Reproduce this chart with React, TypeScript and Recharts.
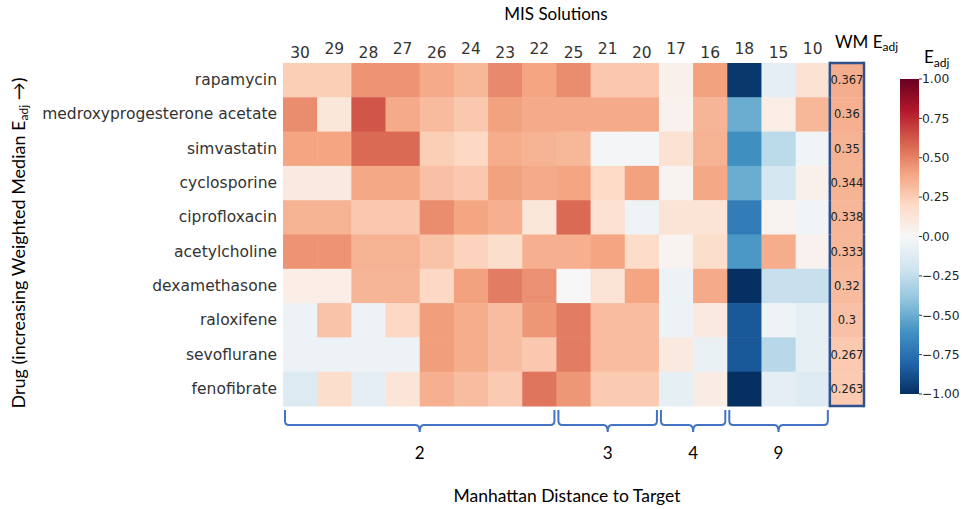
import { ScatterChart, Scatter, XAxis, YAxis, ReferenceArea, BarChart, Bar } from 'recharts';

const DRUGS = [
  'rapamycin',
  'medroxyprogesterone acetate',
  'simvastatin',
  'cyclosporine',
  'ciprofloxacin',
  'acetylcholine',
  'dexamethasone',
  'raloxifene',
  'sevoflurane',
  'fenofibrate',
];

const SOLUTIONS = ['30', '29', '28', '27', '26', '24', '23', '22', '25', '21', '20', '17', '16', '18', '15', '10'];

// E_adj per drug (rows) and MIS solution (columns, same order as SOLUTIONS)
const EADJ = [
  [0.25, 0.25, 0.45, 0.45, 0.38, 0.33, 0.48, 0.4, 0.47, 0.27, 0.27, 0.05, 0.41, -0.97, -0.1, 0.15],
  [0.47, 0.12, 0.63, 0.38, 0.32, 0.27, 0.41, 0.38, 0.38, 0.38, 0.38, 0.04, 0.34, -0.5, 0.07, 0.33],
  [0.4, 0.4, 0.57, 0.57, 0.25, 0.21, 0.37, 0.35, 0.33, -0.02, -0.02, 0.15, 0.35, -0.62, -0.27, -0.03],
  [0.1, 0.1, 0.39, 0.39, 0.3, 0.27, 0.41, 0.38, 0.4, 0.2, 0.41, 0.03, 0.39, -0.5, -0.18, 0.05],
  [0.35, 0.35, 0.27, 0.27, 0.47, 0.4, 0.36, 0.12, 0.57, 0.16, -0.05, 0.14, 0.14, -0.7, 0.03, -0.03],
  [0.45, 0.45, 0.35, 0.35, 0.29, 0.23, 0.18, 0.36, 0.36, 0.4, 0.19, 0.03, 0.18, -0.58, 0.37, 0.04],
  [0.07, 0.07, 0.34, 0.34, 0.21, 0.41, 0.52, 0.46, 0.0, 0.14, 0.4, -0.06, 0.38, -1.0, -0.23, -0.23],
  [-0.06, 0.29, -0.06, 0.21, 0.42, 0.37, 0.31, 0.44, 0.52, 0.31, 0.31, -0.06, 0.1, -0.85, -0.05, -0.09],
  [-0.06, -0.06, -0.06, -0.06, 0.42, 0.37, 0.31, 0.27, 0.52, 0.31, 0.31, 0.1, -0.07, -0.85, -0.28, -0.09],
  [-0.14, 0.18, -0.1, 0.13, 0.36, 0.31, 0.26, 0.54, 0.44, 0.26, 0.26, -0.09, 0.08, -1.0, -0.1, -0.13],
];

const WM_EADJ = [0.367, 0.36, 0.35, 0.344, 0.338, 0.333, 0.32, 0.3, 0.267, 0.263];

// Manhattan distance groups, as column index ranges
const GROUPS = [
  { label: '2', from: 0, to: 8 },
  { label: '3', from: 8, to: 11 },
  { label: '4', from: 11, to: 13 },
  { label: '9', from: 13, to: 16 },
];

const CB_TICKS = [-1, -0.75, -0.5, -0.25, 0, 0.25, 0.5, 0.75, 1];

// matplotlib RdBu_r anchors, from -1 to 1
const RDBU_R = ['#053061', '#2166ac', '#4393c3', '#92c5de', '#d1e5f0', '#f7f7f7', '#fddbc7', '#f4a582', '#d6604d', '#b2182b', '#67001f'];

const W = 962;
const H = 509;
const PLOT_L = 283;
const PLOT_T = 63;
const PLOT_R = 864;
const PLOT_B = 406;
const NCOL = SOLUTIONS.length + 1;
const CELL_W = (PLOT_R - PLOT_L) / NCOL;
const CELL_H = (PLOT_B - PLOT_T) / DRUGS.length;
const XAXIS_H = 30;
const YAXIS_W = 250;

const MPL = '"DejaVu Sans", sans-serif';
const PPT = 'Lato, "Open Sans", sans-serif';
const BOX_BLUE = '#2f528f';
const BRACE_BLUE = '#4472c4';

function hex(c: string) {
  return [1, 3, 5].map((i) => parseInt(c.slice(i, i + 2), 16));
}

function colorFor(v: number) {
  const t = Math.min(1, Math.max(0, (v + 1) / 2)) * (RDBU_R.length - 1);
  const i = Math.min(RDBU_R.length - 2, Math.floor(t));
  const f = t - i;
  const a = hex(RDBU_R[i]);
  const b = hex(RDBU_R[i + 1]);
  const m = a.map((x, k) => Math.round(x + (b[k] - x) * f));
  return `rgb(${m[0]},${m[1]},${m[2]})`;
}

const cells = EADJ.flatMap((row, r) => row.map((v, c) => ({ x: c + 0.5, y: r + 0.5, v })));
const wmCells = WM_EADJ.map((v, r) => ({ x: SOLUTIONS.length + 0.5, y: r + 0.5, v, r }));

function HeatCell(props: any) {
  const { cx, cy, payload } = props;
  return (
    <rect
      x={cx - CELL_W / 2}
      y={cy - CELL_H / 2}
      width={CELL_W + 0.5}
      height={CELL_H + 0.5}
      fill={colorFor(payload.v)}
    />
  );
}

function WmCell(props: any) {
  const { cx, cy, payload } = props;
  const x0 = cx - CELL_W / 2;
  const x1 = cx + CELL_W / 2;
  const y0 = cy - CELL_H / 2;
  const y1 = cy + CELL_H / 2;
  const first = payload.r === 0;
  const last = payload.r === WM_EADJ.length - 1;
  return (
    <g>
      <rect x={x0} y={y0} width={CELL_W} height={CELL_H + 0.5} fill={colorFor(payload.v)} />
      <line x1={x0} y1={y0 - (first ? 1.25 : 0)} x2={x0} y2={y1 + (last ? 1.25 : 0)} stroke={BOX_BLUE} strokeWidth={2.5} />
      <line x1={x1} y1={y0 - (first ? 1.25 : 0)} x2={x1} y2={y1 + (last ? 1.25 : 0)} stroke={BOX_BLUE} strokeWidth={2.5} />
      {first && <line x1={x0} y1={y0} x2={x1} y2={y0} stroke={BOX_BLUE} strokeWidth={2.5} />}
      {last && <line x1={x0} y1={y1} x2={x1} y2={y1} stroke={BOX_BLUE} strokeWidth={2.5} />}
      <text x={cx} y={cy} textAnchor="middle" dominantBaseline="central" fontFamily={MPL} fontSize={11.5} fill="#222">
        {String(payload.v)}
      </text>
    </g>
  );
}

function SolutionTick(props: any) {
  const { x, y, payload } = props;
  const c = Math.floor(payload.value);
  if (c === SOLUTIONS.length) {
    return (
      <text x={x - 12} y={y - 10} fontFamily={PPT} fontSize={17} fill="#000">
        WM E<tspan fontSize={12} dy={3}>adj</tspan>
      </text>
    );
  }
  return (
    <text x={x} y={y - (c % 2 ? 4 : 0)} textAnchor="middle" fontFamily={MPL} fontSize={15.5} fill="#333">
      {SOLUTIONS[c]}
    </text>
  );
}

function DrugTick(props: any) {
  const { x, y, payload } = props;
  return (
    <text x={x} y={y} textAnchor="end" dominantBaseline="central" fontFamily={MPL} fontSize={15.5} fill="#333">
      {DRUGS[Math.floor(payload.value)]}
    </text>
  );
}

function Brace(props: any) {
  const { x, y, width, label } = props;
  const x0 = x + 2;
  const x1 = x + width - 2;
  const xc = (x0 + x1) / 2;
  const yTop = y + 4;
  const yMid = y + 19;
  const yTip = y + 26;
  const r = 4;
  const d = [
    `M${x0},${yTop}`,
    `L${x0},${yMid - r}`,
    `Q${x0},${yMid} ${x0 + r},${yMid}`,
    `L${xc - r},${yMid}`,
    `Q${xc},${yMid} ${xc},${yTip}`,
    `Q${xc},${yMid} ${xc + r},${yMid}`,
    `L${x1 - r},${yMid}`,
    `Q${x1},${yMid} ${x1},${yMid - r}`,
    `L${x1},${yTop}`,
  ].join(' ');
  return (
    <g>
      <path d={d} fill="none" stroke={BRACE_BLUE} strokeWidth={2} />
      <text x={xc} y={y + 53} textAnchor="middle" fontFamily={PPT} fontSize={17} fill="#000">
        {label}
      </text>
    </g>
  );
}

function Heatmap() {
  return (
    <ScatterChart
      width={W}
      height={H}
      margin={{ top: PLOT_T - XAXIS_H, left: PLOT_L - YAXIS_W, right: W - PLOT_R, bottom: H - PLOT_B }}
    >
      <XAxis
        type="number"
        dataKey="x"
        orientation="top"
        domain={[0, NCOL]}
        ticks={Array.from({ length: NCOL }, (_, i) => i + 0.5)}
        interval={0}
        height={XAXIS_H}
        axisLine={false}
        tickLine={false}
        tickSize={0}
        tickMargin={5}
        tick={<SolutionTick />}
        label={{
          content: () => (
            <g>
              <text x={556} y={20} textAnchor="middle" fontFamily={PPT} fontSize={17} fill="#000">
                MIS Solutions
              </text>
              <text x={567} y={502} textAnchor="middle" fontFamily={PPT} fontSize={17.5} fill="#000">
                Manhattan Distance to Target
              </text>
            </g>
          ),
        }}
      />
      <YAxis
        type="number"
        dataKey="y"
        reversed
        domain={[0, DRUGS.length]}
        ticks={DRUGS.map((_, i) => i + 0.5)}
        interval={0}
        width={YAXIS_W}
        axisLine={false}
        tickLine={false}
        tickSize={0}
        tickMargin={6}
        tick={<DrugTick />}
        label={{
          content: () => (
            <text x={25} y={243} transform="rotate(-90, 25, 243)" textAnchor="middle" fontFamily={PPT} fontSize={18} fill="#000">
              Drug (increasing Weighted Median E<tspan fontSize={12} dy={3}>adj</tspan>
              <tspan dy={-3}> →)</tspan>
            </text>
          ),
        }}
      />
      <Scatter data={cells} shape={<HeatCell />} isAnimationActive={false} />
      <Scatter data={wmCells} shape={<WmCell />} isAnimationActive={false} />
      {GROUPS.map((g) => (
        <ReferenceArea
          key={g.label}
          x1={g.from}
          x2={g.to}
          y1={DRUGS.length}
          y2={DRUGS.length + 0.8}
          ifOverflow="visible"
          shape={(p: any) => <Brace {...p} label={g.label} />}
        />
      ))}
    </ScatterChart>
  );
}

const CB_LEFT = 880;
const CB_W = 19;
const CB_AXIS_W = 43;
const CB_TOP = 79;
const CB_BOTTOM = 394;

function Colorbar() {
  return (
    <BarChart
      width={20 + CB_W + CB_AXIS_W}
      height={H}
      data={[{ name: 'cb', range: [-1, 1] }]}
      margin={{ top: CB_TOP, bottom: H - CB_BOTTOM, left: 20, right: 0 }}
      barCategoryGap={0}
    >
      <defs>
        <linearGradient id="cbGrad" x1="0" y1="0" x2="0" y2="1">
          {RDBU_R.slice()
            .reverse()
            .map((c, i) => (
              <stop key={i} offset={`${i * 10}%`} stopColor={c} />
            ))}
        </linearGradient>
      </defs>
      <XAxis dataKey="name" hide />
      <YAxis
        orientation="right"
        type="number"
        domain={[-1, 1]}
        ticks={CB_TICKS}
        interval={0}
        width={CB_AXIS_W}
        axisLine={false}
        tickSize={3}
        tickMargin={0}
        tickLine={{ stroke: '#333' }}
        tick={{ fontFamily: MPL, fontSize: 12.3, fill: '#262626' }}
        tickFormatter={(v: number) => (v < 0 ? '\u2212' : '') + Math.abs(v).toFixed(2)}
        label={{
          content: () => (
            <text x={44} y={63} fontFamily={PPT} fontSize={17} fill="#000">
              E<tspan fontSize={12} dy={4}>adj</tspan>
            </text>
          ),
        }}
      />
      <Bar dataKey="range" fill="url(#cbGrad)" isAnimationActive={false} />
    </BarChart>
  );
}

export default function App() {
  return (
    <div style={{ position: 'relative', width: W, height: H, background: '#fff' }}>
      <style>{'body{margin:0;overflow:hidden}'}</style>
      <div style={{ position: 'absolute', left: 0, top: 0 }}>
        <Heatmap />
      </div>
      <div style={{ position: 'absolute', left: CB_LEFT, top: 0 }}>
        <Colorbar />
      </div>
    </div>
  );
}
